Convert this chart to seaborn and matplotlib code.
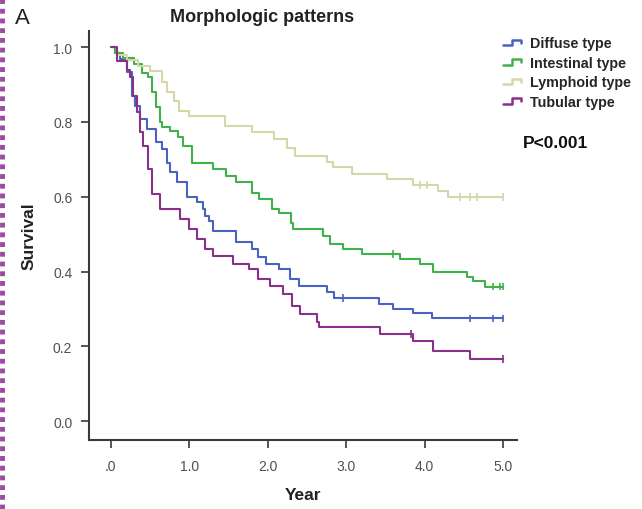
import numpy as np
import pandas as pd
import matplotlib
matplotlib.use("Agg")
import matplotlib.pyplot as plt
from matplotlib.legend_handler import HandlerBase
from matplotlib.lines import Line2D
import seaborn as sns

# Kaplan-Meier step estimates per morphologic pattern (years, survival)
diffuse_t = [0, 0.05, 0.11, 0.20, 0.27, 0.31, 0.37, 0.46, 0.58, 0.65, 0.71, 0.75, 0.84, 0.97,
             1.10, 1.17, 1.20, 1.25, 1.30, 1.60, 1.80, 1.87, 1.98, 2.15, 2.28, 2.40, 2.75, 2.84,
             3.42, 3.60, 3.85, 4.10, 5.0]
diffuse_s = [1.0, 0.985, 0.968, 0.933, 0.87, 0.842, 0.807, 0.78, 0.746, 0.727, 0.69, 0.666, 0.64, 0.60,
             0.585, 0.567, 0.548, 0.535, 0.508, 0.48, 0.46, 0.438, 0.42, 0.406, 0.38, 0.361, 0.345, 0.33,
             0.313, 0.30, 0.29, 0.275, 0.275]
diffuse_cens = [2.96, 4.58, 4.87, 5.0]

intestinal_t = [0, 0.05, 0.15, 0.30, 0.40, 0.47, 0.52, 0.57, 0.62, 0.65, 0.75, 0.85, 0.92, 1.03,
                1.30, 1.47, 1.60, 1.80, 1.89, 2.05, 2.15, 2.30, 2.32, 2.70, 2.80, 2.96, 3.20, 3.69,
                3.94, 4.11, 4.54, 4.62, 4.77, 5.0]
intestinal_s = [1.0, 0.985, 0.97, 0.955, 0.93, 0.92, 0.88, 0.84, 0.80, 0.786, 0.775, 0.76, 0.735, 0.69,
                0.674, 0.655, 0.64, 0.61, 0.594, 0.567, 0.556, 0.53, 0.513, 0.495, 0.473, 0.46, 0.447, 0.433,
                0.42, 0.40, 0.385, 0.374, 0.36, 0.36]
intestinal_cens = [3.60, 4.87, 4.96, 5.0]

lymphoid_t = [0, 0.08, 0.20, 0.35, 0.50, 0.65, 0.72, 0.80, 0.87, 1.00, 1.45, 1.80, 2.08, 2.25,
              2.35, 2.75, 2.83, 3.07, 3.52, 3.85, 4.17, 4.30, 5.0]
lymphoid_s = [1.0, 0.98, 0.965, 0.95, 0.936, 0.906, 0.88, 0.855, 0.83, 0.815, 0.789, 0.773, 0.754, 0.73,
              0.709, 0.692, 0.68, 0.66, 0.647, 0.631, 0.615, 0.60, 0.60]
lymphoid_cens = [3.94, 4.03, 4.45, 4.58, 4.67, 5.0]

tubular_t = [0, 0.08, 0.20, 0.24, 0.28, 0.33, 0.37, 0.41, 0.47, 0.53, 0.62, 0.88, 1.00, 1.10,
             1.20, 1.30, 1.56, 1.76, 1.88, 2.03, 2.20, 2.31, 2.41, 2.63, 2.65, 3.43, 3.85, 4.11,
             4.58, 5.0]
tubular_s = [1.0, 0.963, 0.94, 0.92, 0.87, 0.826, 0.773, 0.735, 0.674, 0.607, 0.567, 0.54, 0.513, 0.487,
             0.46, 0.441, 0.42, 0.406, 0.38, 0.361, 0.34, 0.307, 0.286, 0.265, 0.251, 0.233, 0.214, 0.187,
             0.166, 0.166]
tubular_cens = [3.83, 5.0]

groups = ["Diffuse type", "Intestinal type", "Lymphoid type", "Tubular type"]
palette = {"Diffuse type": "#4a62c2", "Intestinal type": "#3fb24a",
           "Lymphoid type": "#d6d6a8", "Tubular type": "#8a2f8c"}

x_ticks = [0, 1, 2, 3, 4, 5]
x_ticklabels = [".0", "1.0", "2.0", "3.0", "4.0", "5.0"]
y_ticks = [0.0, 0.2, 0.4, 0.6, 0.8, 1.0]
y_ticklabels = ["0.0", "0.2", "0.4", "0.6", "0.8", "1.0"]

curves = {
    "Diffuse type": (diffuse_t, diffuse_s, diffuse_cens),
    "Intestinal type": (intestinal_t, intestinal_s, intestinal_cens),
    "Lymphoid type": (lymphoid_t, lymphoid_s, lymphoid_cens),
    "Tubular type": (tubular_t, tubular_s, tubular_cens),
}

rows, cens_rows = [], []
for g in groups:
    t, s, c = curves[g]
    rows += [{"group": g, "year": ti, "survival": si} for ti, si in zip(t, s)]
    for ci in c:
        # survival at censor time from the step function
        idx = np.searchsorted(t, ci, side="right") - 1
        cens_rows.append({"group": g, "year": ci, "survival": s[idx]})
df = pd.DataFrame(rows)
cens = pd.DataFrame(cens_rows)

sns.set_theme(style="white")
plt.rcParams["font.family"] = ["Liberation Sans", "DejaVu Sans"]

fig = plt.figure(figsize=(6.42, 5.10), dpi=100)
ax = fig.add_axes([89 / 642, 1 - 441 / 510, (517 - 89) / 642, (441 - 32) / 510])

sns.lineplot(data=df, x="year", y="survival", hue="group", hue_order=groups,
             palette=palette, drawstyle="steps-post", estimator=None, sort=False,
             linewidth=1.5, legend=False, ax=ax)
sns.scatterplot(data=cens, x="year", y="survival", hue="group", hue_order=groups,
                palette=palette, marker="|", s=30, linewidth=1.2, legend=False, ax=ax)

ax.set_xlim(-0.28, 5.18)
ax.set_ylim(-0.05, 1.043)
ax.set_xticks(x_ticks)
ax.set_xticklabels(x_ticklabels)
ax.set_yticks(y_ticks)
ax.set_yticklabels(y_ticklabels)
for side in ["top", "right"]:
    ax.spines[side].set_visible(False)
for side in ["left", "bottom"]:
    ax.spines[side].set_color("#3a3a3a")
    ax.spines[side].set_linewidth(1.5)
ax.tick_params(axis="both", which="major", direction="out", length=6, width=1.2,
               color="#3a3a3a", labelsize=10, labelcolor="#505050", pad=6,
               left=True, bottom=True)
ax.tick_params(axis="x", pad=8)
ax.set_xlabel("Year", fontsize=12.5, fontweight="bold", color="#222222", labelpad=10)
ax.set_ylabel("Survival", fontsize=12.5, fontweight="bold", color="#222222", labelpad=12)
ax.grid(False)


class StepHandler(HandlerBase):
    def create_artists(self, legend, orig_handle, xdescent, ydescent, width, height,
                       fontsize, trans):
        x0, w, h = -xdescent, width, height
        y0 = -ydescent
        xs = [x0, x0 + 0.45 * w, x0 + 0.45 * w, x0 + 0.9 * w, x0 + 0.9 * w]
        ys = [y0 + 0.2 * h, y0 + 0.2 * h, y0 + 0.75 * h, y0 + 0.75 * h, y0 + 0.45 * h]
        ln = Line2D(xs, ys, color=orig_handle.get_color(), linewidth=1.8, transform=trans)
        return [ln]


handles = [Line2D([], [], color=palette[g]) for g in groups]
fig.legend(handles, groups, loc="upper left", bbox_to_anchor=(502 / 642, 1 - 36 / 510),
           frameon=False, handler_map={Line2D: StepHandler()},
           prop={"weight": "bold", "size": 10.3}, handlelength=1.4, handletextpad=0.45,
           labelspacing=0.38, borderaxespad=0, borderpad=0.1)

fig.text(262 / 642, 1 - 17 / 510, "Morphologic patterns", ha="center", va="center",
         fontsize=13, fontweight="bold", color="#222222")
fig.text(22 / 642, 1 - 18 / 510, "A", ha="center", va="center", fontsize=16, color="#222222")
fig.text(556 / 642, 1 - 143 / 510, "P<0.001", ha="center", va="center",
         fontsize=12.5, fontweight="bold", color="#111111")

# decorative dotted strip along the left border
fig.add_artist(Line2D([2 / 642, 2 / 642], [0, 1], transform=fig.transFigure,
                      color="#9a4aa0", linewidth=3.5, linestyle=(0, (1, 1))))

fig.savefig("out.png", dpi=100)
